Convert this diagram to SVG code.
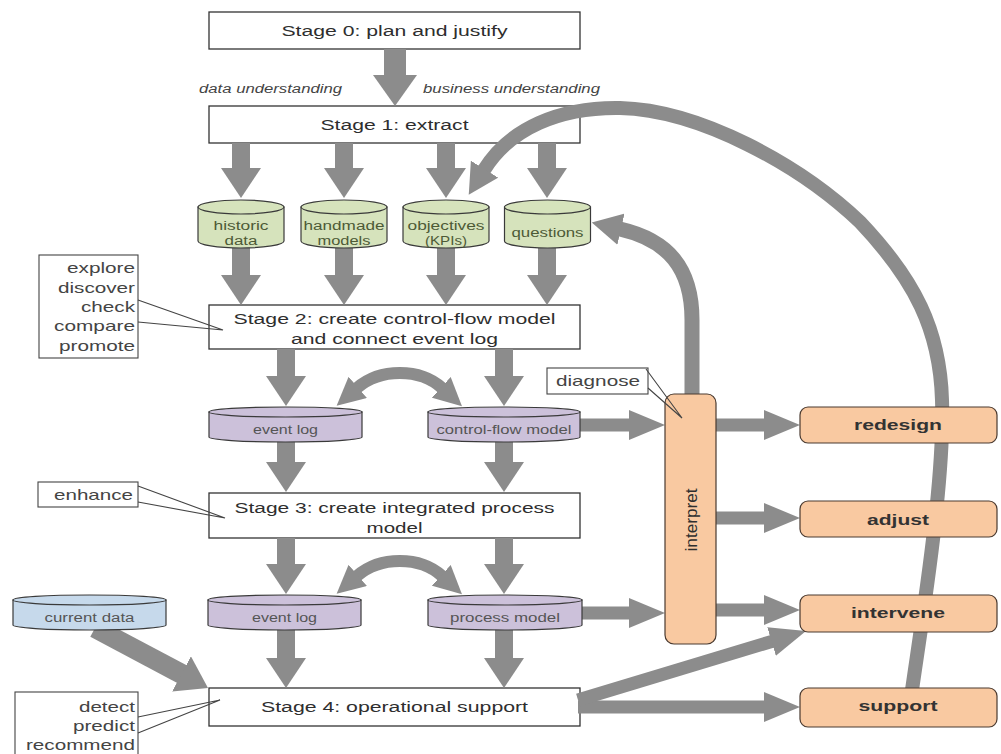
<svg xmlns="http://www.w3.org/2000/svg" width="1001" height="754" viewBox="0 0 1001 754">
  <defs>
    <style>
      .box{fill:#fff;stroke:#333;stroke-width:1.3}
      .call{fill:#fff;stroke:#444;stroke-width:1.1}
      .ptr{fill:none;stroke:#444;stroke-width:1.1}
      .st{font-family:"Liberation Sans",Arial,sans-serif;font-size:15.5px;fill:#2e2e2e;text-anchor:middle}
      .ct{font-family:"Liberation Sans",Arial,sans-serif;font-size:15px;fill:#444;text-anchor:end}
      .it{font-family:"Liberation Sans",Arial,sans-serif;font-size:12px;font-style:italic;fill:#444}
      .cyl{stroke:#3a3a3a;stroke-width:1.2}
      .g{fill:#d6e3bc}
      .p{fill:#ccc1da}
      .b{fill:#c6d9eb}
      .gt{font-family:"Liberation Sans",Arial,sans-serif;font-size:12px;fill:#4d5a36;text-anchor:middle}
      .pt{font-family:"Liberation Sans",Arial,sans-serif;font-size:12px;fill:#555;text-anchor:middle}
      .act{fill:#f9c9a1;stroke:#4a3a30;stroke-width:1.2}
      .at{font-family:"Liberation Sans",Arial,sans-serif;font-size:15px;font-weight:bold;fill:#333;text-anchor:middle}
      .v{stroke-width:18;marker-end:url(#hv)}
      .h{stroke-width:13;marker-end:url(#hh)}
      .dbl{stroke-width:12;marker-start:url(#hd);marker-end:url(#hd)}
    </style>
    <marker id="hbig" viewBox="0 -22 31 44" refX="1" refY="0" markerWidth="31" markerHeight="44" markerUnits="userSpaceOnUse" orient="auto">
      <path d="M0,-22 L31,0 L0,22 Z" fill="#8c8c8c"/>
    </marker>
    <marker id="hv" viewBox="0 -20 30 40" refX="1" refY="0" markerWidth="30" markerHeight="40" markerUnits="userSpaceOnUse" orient="auto">
      <path d="M0,-20 L30,0 L0,20 Z" fill="#8c8c8c"/>
    </marker>
    <marker id="hh" viewBox="0 -15 36 30" refX="1" refY="0" markerWidth="36" markerHeight="30" markerUnits="userSpaceOnUse" orient="auto">
      <path d="M0,-15 L36,0 L0,15 Z" fill="#8c8c8c"/>
    </marker>
    <marker id="hc" viewBox="0 -16 30 32" refX="1" refY="0" markerWidth="30" markerHeight="32" markerUnits="userSpaceOnUse" orient="auto">
      <path d="M0,-16 L30,0 L0,16 Z" fill="#8c8c8c"/>
    </marker>
    <marker id="hd" viewBox="0 -14 28 28" refX="1" refY="0" markerWidth="28" markerHeight="28" markerUnits="userSpaceOnUse" orient="auto-start-reverse">
      <path d="M0,-14 L28,0 L0,14 Z" fill="#8c8c8c"/>
    </marker>
  </defs>

  <rect width="1001" height="754" fill="#fff"/>

  <!-- stages (drawn first so the feedback arc can cross Stage 1) -->
  <g id="stage0">
    <rect class="box" x="209" y="12" width="371" height="37"/>
    <text class="st" x="394.5" y="36" textLength="226" lengthAdjust="spacingAndGlyphs">Stage 0: plan and justify</text>
  </g>
  <g id="understanding-labels">
    <text class="it" x="199" y="93" textLength="143" lengthAdjust="spacingAndGlyphs">data understanding</text>
    <text class="it" x="423" y="93" textLength="177" lengthAdjust="spacingAndGlyphs">business understanding</text>
  </g>
  <g id="stage1">
    <rect class="box" x="209" y="106" width="371" height="37"/>
    <text class="st" x="394.5" y="130" textLength="148" lengthAdjust="spacingAndGlyphs">Stage 1: extract</text>
  </g>
  <g id="stage2">
    <rect class="box" x="209" y="305" width="371" height="44"/>
    <text class="st" x="394.5" y="324" textLength="322" lengthAdjust="spacingAndGlyphs">Stage 2: create control-flow model</text>
    <text class="st" x="394.5" y="344" textLength="207" lengthAdjust="spacingAndGlyphs">and connect event log</text>
  </g>
  <g id="stage3">
    <rect class="box" x="209" y="493" width="371" height="45"/>
    <text class="st" x="394.5" y="513" textLength="320" lengthAdjust="spacingAndGlyphs">Stage 3: create integrated process</text>
    <text class="st" x="394.5" y="533" textLength="56" lengthAdjust="spacingAndGlyphs">model</text>
  </g>
  <g id="stage4">
    <rect class="box" x="209" y="688" width="371" height="38"/>
    <text class="st" x="394.5" y="712" textLength="267" lengthAdjust="spacingAndGlyphs">Stage 4: operational support</text>
  </g>

  <!-- connectors -->
  <g id="connectors" fill="none" stroke="#8c8c8c">
    <path d="M395,49 V76" stroke-width="22" marker-end="url(#hbig)"/>
    <path class="v" d="M241,143 V169"/>
    <path class="v" d="M344,143 V169"/>
    <path class="v" d="M446,143 V169"/>
    <path class="v" d="M547,143 V169"/>
    <path class="v" d="M241,246 V276"/>
    <path class="v" d="M344,246 V276"/>
    <path class="v" d="M446,246 V276"/>
    <path class="v" d="M547,246 V276"/>
    <path class="v" d="M286,349 V377"/>
    <path class="v" d="M504,349 V377"/>
    <path class="v" d="M286,440 V463"/>
    <path class="v" d="M504,440 V463"/>
    <path class="v" d="M286,538 V565"/>
    <path class="v" d="M504,538 V565"/>
    <path class="v" d="M286,628 V659"/>
    <path class="v" d="M504,628 V659"/>
    <path d="M95,628 L182.4,674.4" stroke-width="20" marker-end="url(#hv)"/>
    <path class="dbl" d="M357,388 C380,368 420,368 442,388"/>
    <path class="dbl" d="M357,576 C380,556 420,556 442,576"/>
    <path class="h" d="M578,425 H630"/>
    <path class="h" d="M580,613 H630"/>
    <path class="h" d="M716,425 H765"/>
    <path class="h" d="M716,518 H765"/>
    <path class="h" d="M716,610 H765"/>
    <path class="h" d="M578,707 H765"/>
    <path class="h" d="M578,700 L772.5,641.2"/>
    <path d="M692,396 V320 C692,268 668,240 620,229" stroke-width="15" marker-end="url(#hc)"/>
    <path d="M912,690 C922,620 945,480 942,400 C940,330 915,280 860,222 C800,165 700,110 620,108 C560,107 510,128 484,170" stroke-width="14" marker-end="url(#hc)"/>
  </g>

  <!-- extracted data stores -->
  <g id="historic-data">
    <path class="cyl g" d="M198,207 V241 A43,7 0 0 0 284,241 V207 Z"/>
    <ellipse class="cyl g" cx="241" cy="207" rx="43" ry="7"/>
    <text class="gt" x="241" y="230" textLength="55" lengthAdjust="spacingAndGlyphs">historic</text>
    <text class="gt" x="241" y="245" textLength="33" lengthAdjust="spacingAndGlyphs">data</text>
  </g>
  <g id="handmade-models">
    <path class="cyl g" d="M301,207 V241 A43,7 0 0 0 387,241 V207 Z"/>
    <ellipse class="cyl g" cx="344" cy="207" rx="43" ry="7"/>
    <text class="gt" x="344" y="230" textLength="81" lengthAdjust="spacingAndGlyphs">handmade</text>
    <text class="gt" x="344" y="245" textLength="53" lengthAdjust="spacingAndGlyphs">models</text>
  </g>
  <g id="objectives">
    <path class="cyl g" d="M403,207 V241 A43,7 0 0 0 489,241 V207 Z"/>
    <ellipse class="cyl g" cx="446" cy="207" rx="43" ry="7"/>
    <text class="gt" x="446" y="230" textLength="77" lengthAdjust="spacingAndGlyphs">objectives</text>
    <text class="gt" x="446" y="245" textLength="42" lengthAdjust="spacingAndGlyphs">(KPIs)</text>
  </g>
  <g id="questions">
    <path class="cyl g" d="M504.5,207 V241 A43,7 0 0 0 590.5,241 V207 Z"/>
    <ellipse class="cyl g" cx="547.5" cy="207" rx="43" ry="7"/>
    <text class="gt" x="547.5" y="237" textLength="72" lengthAdjust="spacingAndGlyphs">questions</text>
  </g>

  <!-- logs and models -->
  <g id="event-log-1">
    <path class="cyl p" d="M209,412 V437 A76.5,5 0 0 0 362,437 V412 Z"/>
    <ellipse class="cyl p" cx="285.5" cy="412" rx="76.5" ry="5"/>
    <text class="pt" x="285.5" y="434" textLength="65" lengthAdjust="spacingAndGlyphs">event log</text>
  </g>
  <g id="control-flow-model">
    <path class="cyl p" d="M428,412 V437 A76,5 0 0 0 580,437 V412 Z"/>
    <ellipse class="cyl p" cx="504" cy="412" rx="76" ry="5"/>
    <text class="pt" x="504" y="434" textLength="135" lengthAdjust="spacingAndGlyphs">control-flow model</text>
  </g>
  <g id="current-data">
    <path class="cyl b" d="M13,600 V625 A76.5,5 0 0 0 166,625 V600 Z"/>
    <ellipse class="cyl b" cx="89.5" cy="600" rx="76.5" ry="5"/>
    <text class="pt" x="89.5" y="622" textLength="90" lengthAdjust="spacingAndGlyphs">current data</text>
  </g>
  <g id="event-log-2">
    <path class="cyl p" d="M208,600 V625 A76.5,5 0 0 0 361,625 V600 Z"/>
    <ellipse class="cyl p" cx="284.5" cy="600" rx="76.5" ry="5"/>
    <text class="pt" x="284.5" y="622" textLength="65" lengthAdjust="spacingAndGlyphs">event log</text>
  </g>
  <g id="process-model">
    <path class="cyl p" d="M428,600 V625 A77,5 0 0 0 582,625 V600 Z"/>
    <ellipse class="cyl p" cx="505" cy="600" rx="77" ry="5"/>
    <text class="pt" x="505" y="622" textLength="110" lengthAdjust="spacingAndGlyphs">process model</text>
  </g>

  <!-- actions -->
  <g id="interpret">
    <rect class="act" x="665" y="394" width="51" height="250" rx="9"/>
    <text class="st" transform="translate(697,520) rotate(-90)" style="font-size:16px" textLength="63" lengthAdjust="spacingAndGlyphs">interpret</text>
  </g>
  <g id="redesign">
    <rect class="act" x="800" y="407" width="197" height="36" rx="8"/>
    <text class="at" x="898" y="430" textLength="88" lengthAdjust="spacingAndGlyphs">redesign</text>
  </g>
  <g id="adjust">
    <rect class="act" x="800" y="501" width="197" height="36" rx="8"/>
    <text class="at" x="898" y="525" textLength="62" lengthAdjust="spacingAndGlyphs">adjust</text>
  </g>
  <g id="intervene">
    <rect class="act" x="800" y="595" width="197" height="37" rx="8"/>
    <text class="at" x="898" y="618" textLength="94" lengthAdjust="spacingAndGlyphs">intervene</text>
  </g>
  <g id="support">
    <rect class="act" x="800" y="688" width="197" height="39" rx="8"/>
    <text class="at" x="898" y="711" textLength="79" lengthAdjust="spacingAndGlyphs">support</text>
  </g>

  <!-- callouts -->
  <g id="callout-stage2">
    <rect class="call" x="39" y="255" width="99" height="103"/>
    <path class="ptr" d="M138,300 L223,330 L138,322"/>
    <text class="ct" x="135" y="273" textLength="68" lengthAdjust="spacingAndGlyphs">explore</text>
    <text class="ct" x="135" y="293" textLength="77" lengthAdjust="spacingAndGlyphs">discover</text>
    <text class="ct" x="135" y="312" textLength="54" lengthAdjust="spacingAndGlyphs">check</text>
    <text class="ct" x="135" y="331" textLength="81" lengthAdjust="spacingAndGlyphs">compare</text>
    <text class="ct" x="135" y="351" textLength="76" lengthAdjust="spacingAndGlyphs">promote</text>
  </g>
  <g id="callout-stage3">
    <rect class="call" x="38" y="482" width="100" height="25"/>
    <path class="ptr" d="M138,486 L225,518 L138,502"/>
    <text class="ct" x="133" y="500" textLength="79" lengthAdjust="spacingAndGlyphs">enhance</text>
  </g>
  <g id="callout-interpret">
    <rect class="call" x="547" y="368" width="101" height="26"/>
    <path class="ptr" d="M646,369 L682,418 L648,388"/>
    <text class="ct" x="640" y="386" textLength="84" lengthAdjust="spacingAndGlyphs">diagnose</text>
  </g>
  <g id="callout-stage4">
    <rect class="call" x="15" y="692" width="123" height="70"/>
    <path class="ptr" d="M138,717 L220,700 L138,733"/>
    <text class="ct" x="135" y="712" textLength="56" lengthAdjust="spacingAndGlyphs">detect</text>
    <text class="ct" x="135" y="731" textLength="62" lengthAdjust="spacingAndGlyphs">predict</text>
    <text class="ct" x="135" y="750" textLength="109" lengthAdjust="spacingAndGlyphs">recommend</text>
  </g>
</svg>
